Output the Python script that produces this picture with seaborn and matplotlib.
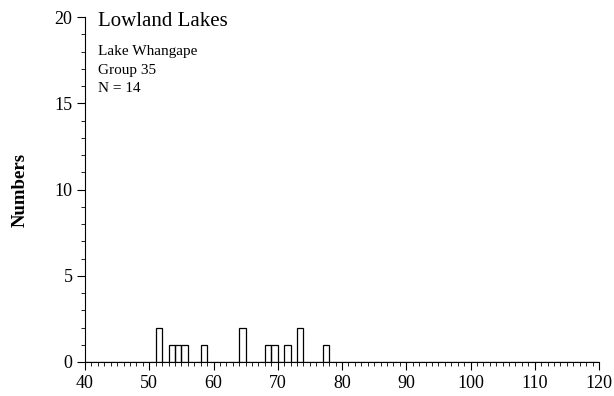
import matplotlib
matplotlib.use("Agg")
import matplotlib.pyplot as plt
from matplotlib.ticker import MultipleLocator
import seaborn as sns
import pandas as pd

# Data: bin start (length class) and counts
bin_starts = [51, 53, 54, 55, 58, 64, 68, 69, 71, 73, 77]
counts = [2, 1, 1, 1, 1, 2, 1, 1, 1, 2, 1]
title = "Lowland Lakes"
info_lines = ["Lake Whangape", "Group 35", "N = 14"]

values = []
for s, c in zip(bin_starts, counts):
    values += [s + 0.5] * c
df = pd.DataFrame({"length": values})

sns.set_style("ticks")
plt.rcParams["font.family"] = ["Liberation Serif", "DejaVu Serif"]
plt.rcParams["text.color"] = "black"
plt.rcParams["axes.labelcolor"] = "black"

L, R, T, B = 85, 599, 17, 362
fig = plt.figure(figsize=(6.14, 3.96), dpi=100)
ax = fig.add_axes([L/614, 1 - B/396, (R-L)/614, (B-T)/396])

sns.histplot(data=df, x="length", binwidth=1, binrange=(40, 120),
             fill=False, color="black", edgecolor="black", linewidth=0.9, ax=ax)

ax.set_xlim(40, 120)
ax.set_ylim(0, 20)
ax.xaxis.set_major_locator(MultipleLocator(10))
ax.xaxis.set_minor_locator(MultipleLocator(1))
ax.yaxis.set_major_locator(MultipleLocator(5))
ax.yaxis.set_minor_locator(MultipleLocator(1))
ax.tick_params(axis="both", which="major", length=5.5, width=0.8, labelsize=13,
               direction="out", colors="black", labelcolor="black")
ax.tick_params(axis="both", which="minor", length=2.8, width=0.6, direction="out", colors="black")
for sp in ["top", "right"]:
    ax.spines[sp].set_visible(False)
for sp in ["left", "bottom"]:
    ax.spines[sp].set_linewidth(0.8)
    ax.spines[sp].set_color("black")

ax.set_xlabel("")
ax.set_ylabel("Numbers", fontsize=13.5, fontweight="bold", color="black")
ax.yaxis.set_label_coords((29 - L) / (R - L), 0.5)

fig.text(98/614, 1 - 22/396, title, fontsize=15, va="center", ha="left", color="black")
for i, line in enumerate(info_lines):
    fig.text(98/614, 1 - (52 + i*18.5)/396, line, fontsize=11, va="center", ha="left", color="black")

fig.savefig("out.png", dpi=100)
